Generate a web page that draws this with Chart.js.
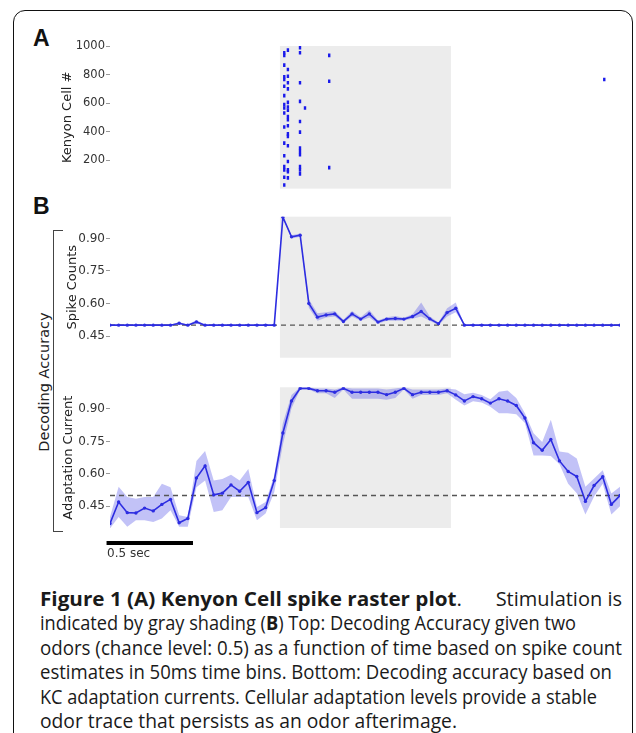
<!DOCTYPE html>
<html><head><meta charset="utf-8">
<script src="https://cdn.jsdelivr.net/npm/chart.js@4.4.1/dist/chart.umd.min.js"></script>
<style>
html,body{margin:0;padding:0;background:#fff;width:636px;height:733px;overflow:hidden;}
#wrap{position:relative;width:636px;height:733px;overflow:hidden;}
.frame{position:absolute;left:13px;top:10px;width:620px;height:800px;border:1.5px solid #111;border-radius:12px;box-sizing:border-box;}
canvas{position:absolute;left:0;}
.lbl{position:absolute;font-family:'Liberation Sans',Arial,sans-serif;font-weight:bold;font-size:23px;line-height:23px;color:#111;}
.bracket{position:absolute;left:53px;top:230px;width:10px;height:302px;border:1.5px solid #444;border-right:none;box-sizing:border-box;}
.dec{position:absolute;left:44px;top:382px;font-family:'DejaVu Sans';font-size:14.5px;line-height:14px;color:#222;white-space:nowrap;transform:translate(-50%,-50%) rotate(-90deg);}
.cap{position:absolute;left:40px;font-family:'Open Sans';font-size:20px;line-height:24.4px;color:#1a1a1a;white-space:nowrap;transform-origin:0 0;}
.cap b{font-weight:700;}
</style></head>
<body><div id="wrap">
<div class="frame"></div>
<div class="lbl" style="left:33px;top:27px;">A</div>
<div class="lbl" style="left:33px;top:195px;">B</div>
<div class="bracket"></div>
<div class="dec">Decoding Accuracy</div>
<canvas id="cA" width="636" height="185" style="top:20px;width:636px;height:185px;"></canvas>
<canvas id="cB1" width="636" height="165" style="top:205px;width:636px;height:165px;"></canvas>
<canvas id="cB2" width="636" height="195" style="top:370px;width:636px;height:195px;"></canvas>
<div class="cap" id="l0a" style="top:587px;"><b>Figure 1 (A) Kenyon Cell spike raster plot</b>.</div>
<div class="cap" id="l0b" style="top:587px;">Stimulation is</div>
<div class="cap" id="l1" style="top:611.4px;">indicated by gray shading (<b>B</b>) Top: Decoding Accuracy given two</div>
<div class="cap" id="l2" style="top:635.8px;">odors (chance level: 0.5) as a function of time based on spike count</div>
<div class="cap" id="l3" style="top:660.2px;">estimates in 50ms time bins. Bottom: Decoding accuracy based on</div>
<div class="cap" id="l4" style="top:684.6px;">KC adaptation currents. Cellular adaptation levels provide a stable</div>
<div class="cap" id="l5" style="top:709px;">odor trace that persists as an odor afterimage.</div>
</div>
<script>
// ---- data ----
const timeBins = [0.00,0.05,0.10,0.15,0.20,0.25,0.30,0.35,0.40,0.45,0.50,0.55,0.60,0.65,0.70,0.75,0.80,0.85,0.90,0.95,
  1.00,1.05,1.10,1.15,1.20,1.25,1.30,1.35,1.40,1.45,1.50,1.55,1.60,1.65,1.70,1.75,1.80,1.85,1.90,1.95,
  2.00,2.05,2.10,2.15,2.20,2.25,2.30,2.35,2.40,2.45,2.50,2.55,2.60,2.65,2.70,2.75,2.80,2.85,2.90,2.95];
const stimulus = [0.983, 1.972];
const chanceLevel = 0.5;

const rasterTimes = [
  1.008,1.008,1.008,1.008,1.008,1.008,1.008,1.008,1.008,1.008,1.008,1.008,1.008,1.008,1.008,1.008,1.008,
  1.029,1.029,1.029,1.029,1.029,1.029,1.029,1.029,1.029,1.029,1.029,1.029,1.029,1.029,1.029,1.029,1.029,1.029,
  1.099,1.099,1.099,1.099,1.099,1.099,1.099,1.099,1.099,1.099,1.099,1.099,
  1.128,
  1.268,1.268,1.268,
  2.859];
const rasterCells = [
  953,934,866,784,765,718,652,589,565,530,432,319,230,154,131,80,25,
  971,835,788,742,699,605,572,549,506,483,441,384,366,300,190,131,119,75,
  988,953,742,612,471,396,284,260,237,154,131,103,
  565,
  934,753,147,
  765];
const rasterTicks = [200,400,600,800,1000];

const spikeMean = [0.5,0.5,0.5,0.5,0.5,0.5,0.5,0.5,0.509,0.5,0.515,0.5,0.5,0.5,0.5,0.5,0.5,0.5,0.5,0.5,
  0.998,0.907,0.915,0.600,0.537,0.547,0.552,0.517,0.552,0.528,0.552,0.514,0.528,0.531,0.528,0.540,0.563,0.529,0.507,0.558,
  0.578,0.5,0.5,0.5,0.5,0.5,0.5,0.5,0.5,0.5,0.5,0.5,0.5,0.5,0.5,0.5,0.5,0.5,0.5,0.5];
const spikeLow = [0.498,0.498,0.498,0.498,0.498,0.498,0.498,0.498,0.503,0.498,0.506,0.498,0.498,0.498,0.498,0.498,0.498,0.498,0.498,0.498,
  0.994,0.900,0.908,0.580,0.520,0.535,0.540,0.510,0.540,0.520,0.535,0.507,0.520,0.520,0.522,0.530,0.540,0.520,0.500,0.540,
  0.560,0.498,0.498,0.498,0.498,0.498,0.498,0.498,0.498,0.498,0.498,0.498,0.498,0.498,0.498,0.498,0.498,0.498,0.498,0.498];
const spikeHigh = [0.502,0.502,0.502,0.502,0.502,0.502,0.502,0.502,0.515,0.502,0.524,0.502,0.502,0.502,0.502,0.502,0.502,0.502,0.502,0.502,
  1.000,0.914,0.922,0.620,0.555,0.560,0.565,0.525,0.565,0.536,0.570,0.521,0.536,0.542,0.534,0.550,0.605,0.540,0.512,0.578,
  0.605,0.502,0.502,0.502,0.502,0.502,0.502,0.502,0.502,0.502,0.502,0.502,0.502,0.502,0.502,0.502,0.502,0.502,0.502,0.502];

const adaptMean = [0.371,0.470,0.421,0.419,0.442,0.429,0.459,0.482,0.374,0.394,
  0.581,0.637,0.503,0.511,0.549,0.520,0.561,0.421,0.444,0.569,
  0.789,0.937,0.995,0.995,0.984,0.984,0.977,0.995,0.977,0.977,
  0.977,0.977,0.966,0.977,0.995,0.966,0.977,0.977,0.977,0.984,
  0.965,0.937,0.957,0.947,0.927,0.947,0.937,0.916,0.858,0.744,
  0.709,0.759,0.660,0.611,0.588,0.473,0.546,0.587,0.459,0.500];
const adaptLow = [0.348,0.401,0.356,0.386,0.386,0.378,0.394,0.432,0.356,0.356,
  0.538,0.569,0.424,0.432,0.493,0.493,0.493,0.386,0.417,0.515,
  0.736,0.903,0.990,0.990,0.972,0.972,0.950,0.990,0.947,0.947,
  0.947,0.947,0.943,0.950,0.990,0.947,0.965,0.965,0.965,0.972,
  0.943,0.916,0.935,0.930,0.910,0.880,0.880,0.876,0.835,0.685,
  0.685,0.683,0.645,0.555,0.510,0.412,0.495,0.555,0.412,0.450];
const adaptHigh = [0.401,0.541,0.493,0.485,0.493,0.493,0.554,0.538,0.409,0.401,
  0.660,0.706,0.569,0.576,0.596,0.569,0.622,0.447,0.470,0.592,
  0.835,0.965,1.000,1.000,0.995,0.995,0.990,1.000,0.995,0.995,
  0.995,0.995,0.990,0.995,1.000,0.990,0.990,0.990,0.990,0.995,
  0.990,0.968,0.975,0.965,0.945,0.979,0.985,0.950,0.880,0.788,
  0.747,0.850,0.703,0.698,0.671,0.541,0.579,0.617,0.509,0.541];
const accTicks = [0.45,0.60,0.75,0.90];
const scaleBar = {start:-0.02, length:0.5, label:'0.5 sec'};

// ---- helpers ----
const LINE = 'rgb(45,45,225)';
const BAND = 'rgba(95,95,235,0.38)';
const xy = (xs, ys) => xs.map((x,i)=>({x:x, y:ys[i]}));

const stimPlugin = {
  id:'stim',
  beforeDraw(chart){
    const {ctx, chartArea:a, scales:{x}} = chart;
    const x0 = x.getPixelForValue(stimulus[0]), x1 = x.getPixelForValue(stimulus[1]);
    ctx.save(); ctx.fillStyle = '#ececec'; ctx.fillRect(x0, a.top, x1-x0, a.bottom-a.top); ctx.restore();
  }
};
const barPlugin = {
  id:'scalebar',
  afterDraw(chart){
    const {ctx, chartArea:a, scales:{x}} = chart;
    const x0 = x.getPixelForValue(scaleBar.start), x1 = x.getPixelForValue(scaleBar.start+scaleBar.length);
    ctx.save();
    ctx.fillStyle = '#000'; ctx.fillRect(x0, a.bottom+13, x1-x0, 4);
    ctx.font = '12px "DejaVu Sans"'; ctx.fillStyle = '#333'; ctx.textBaseline='alphabetic';
    ctx.fillText(scaleBar.label, x0+0.5, a.bottom+29);
    ctx.restore();
  }
};

function yScale(min, max, ticks, fmt, title, width, fontSize){
  return {
    min:min, max:max,
    afterBuildTicks: s => { s.ticks = ticks.map(v=>({value:v})); },
    afterFit: s => { s.width = width; },
    ticks:{font:{family:'DejaVu Sans', size:fontSize}, color:'#333', padding:1, autoSkip:false, callback: v => fmt(v)},
    grid:{drawOnChartArea:false, drawTicks:true, tickLength:4, color:'#999', lineWidth:1},
    border:{display:false},
    title:{display:true, text:title, font:{family:'DejaVu Sans', size:13}, color:'#222', padding:0}
  };
}
function baseOptions(padL, padT, padB, y){
  return {
    responsive:false, animation:false, devicePixelRatio:1,
    layout:{padding:{left:padL, right:16, top:padT, bottom:padB}},
    plugins:{legend:{display:false}, tooltip:{enabled:false}},
    scales:{ x:{type:'linear', min:timeBins[0], max:timeBins[timeBins.length-1], display:false}, y:y }
  };
}
function accDatasets(mean, lo, hi){
  return [
    {data:xy(timeBins, lo), borderWidth:0, pointRadius:0, fill:false, order:3},
    {data:xy(timeBins, hi), borderWidth:0, pointRadius:0, fill:'-1', backgroundColor:BAND, order:2},
    {data:xy([timeBins[0], timeBins[timeBins.length-1]], [chanceLevel, chanceLevel]), borderColor:'#555', borderWidth:1.4, borderDash:[5,4], pointRadius:0, order:1},
    {data:xy(timeBins, mean), borderColor:LINE, borderWidth:1.6, pointRadius:1.7, pointBackgroundColor:LINE, pointBorderWidth:0, order:0}
  ];
}

// Panel A: spike raster
new Chart(document.getElementById('cA'), {
  type:'scatter',
  data:{datasets:[{data:xy(rasterTimes, rasterCells), pointStyle:'line', rotation:90, radius:1.8, borderColor:'rgb(25,25,235)', borderWidth:2.4}]},
  options: baseOptions(59.7, 26, 16.4, yScale(0, 1000, rasterTicks, v=>String(v), 'Kenyon Cell #', 110-59.7, 11.5)),
  plugins:[stimPlugin]
});
// Panel B top: spike counts
new Chart(document.getElementById('cB1'), {
  type:'line',
  data:{datasets:accDatasets(spikeMean, spikeLow, spikeHigh)},
  options: baseOptions(64.7, 11.7, 12.3, yScale(0.35, 1.0, accTicks, v=>v.toFixed(2), 'Spike Counts', 110-64.7, 12)),
  plugins:[stimPlugin]
});
// Panel B bottom: adaptation current
new Chart(document.getElementById('cB2'), {
  type:'line',
  data:{datasets:accDatasets(adaptMean, adaptLow, adaptHigh)},
  options: baseOptions(60.7, 17.3, 37, yScale(0.35, 1.0, accTicks, v=>v.toFixed(2), 'Adaptation Current', 110-60.7, 12)),
  plugins:[stimPlugin, barPlugin]
});

// caption: fit each line to the width it has in the original figure
const capFit = {l0a:422, l1:536, l2:582, l3:572, l4:557, l5:417};
for (const id in capFit){
  const el = document.getElementById(id);
  const w = el.getBoundingClientRect().width;
  el.style.transform = 'scaleX(' + (capFit[id]/w).toFixed(4) + ')';
}
const rb = document.getElementById('l0b');
rb.style.left = (622 - rb.getBoundingClientRect().width) + 'px';
</script>
</body></html>
